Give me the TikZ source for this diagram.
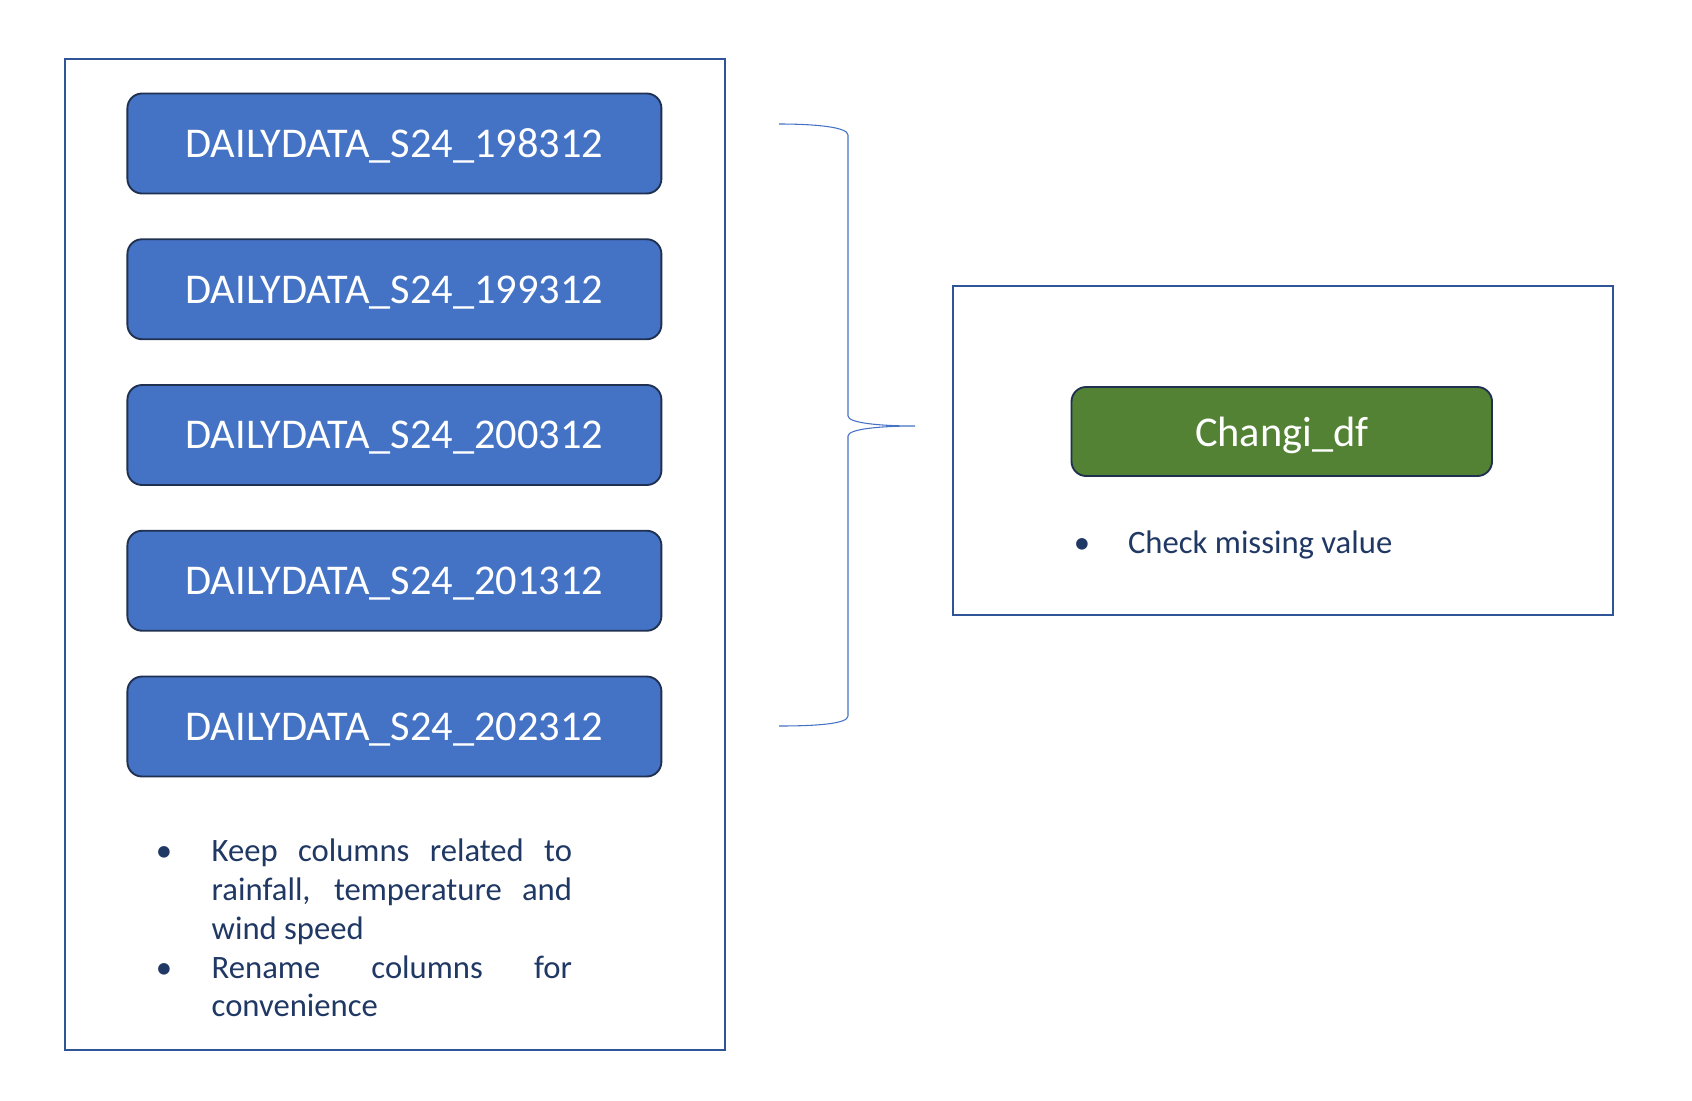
\documentclass[tikz,border=0pt]{standalone}
\usepackage{fontspec}
\setmainfont{Carlito}
\definecolor{boxblue}{HTML}{4472C4}
\definecolor{boxgreen}{HTML}{548235}
\definecolor{edgedark}{HTML}{1F3050}
\definecolor{panelblue}{HTML}{2F5597}
\definecolor{navytext}{HTML}{203864}
\definecolor{bracecol}{HTML}{4472C4}
\tikzset{
  panel/.style={draw=panelblue, line width=1.4pt, inner sep=0pt, outer sep=0pt, fill=white},
  databox/.style={draw=edgedark, line width=1.4pt, fill=boxblue, rounded corners=11pt,
    minimum width=400.5pt, minimum height=75pt, inner sep=0pt, outer sep=0pt,
    text depth=0pt, text=white, font=\fontsize{31.8}{38}\selectfont},
  resultbox/.style={databox, fill=boxgreen, minimum width=315.4pt, minimum height=66.75pt},
  bullettext/.style={text=navytext, inner sep=0pt, outer sep=0pt, font=\fontsize{24.5}{29.5}\selectfont},
  bracebranch/.style={draw=bracecol, line width=0.8pt}
}
\begin{document}
\begin{tikzpicture}[x=0.75pt,y=-0.75pt]
\useasboundingbox (0,0) rectangle (1692,1100);
% panels
\node[panel, minimum width=495.4pt, minimum height=743pt] (leftpanel) at (395,554.7) {};
\node[panel, minimum width=495pt, minimum height=246.75pt] (rightpanel) at (1283,450.5) {};
% data boxes
\node[databox] (d1) at (394.4,143.5) {DAILYDATA\_S24\_198312};
\node[databox] (d2) at (394.4,289.25) {DAILYDATA\_S24\_199312};
\node[databox] (d3) at (394.4,435) {DAILYDATA\_S24\_200312};
\node[databox] (d4) at (394.4,580.75) {DAILYDATA\_S24\_201312};
\node[databox] (d5) at (394.4,726.5) {DAILYDATA\_S24\_202312};
% left bullets
\node[bullettext, anchor=base] (lb1) at (164,861.7) {•};
\node[bullettext, anchor=base west] (l1) at (211.7,861.7) {\makebox[270.2pt][s]{Keep columns related to}};
\node[bullettext, anchor=base west] (l2) at (211.7,900.5) {\makebox[270.2pt][s]{rainfall, temperature and}};
\node[bullettext, anchor=base west] (l3) at (211.7,939.3) {wind speed};
\node[bullettext, anchor=base] (lb2) at (164,978) {•};
\node[bullettext, anchor=base west] (l4) at (211.7,978) {\makebox[270.2pt][s]{Rename columns for}};
\node[bullettext, anchor=base west] (l5) at (211.7,1016.8) {convenience};
% result box
\node[resultbox] (changi) at (1281.75,431.5) {Changi\_df};
\node[bullettext, anchor=base] (rb1) at (1082,553) {•};
\node[bullettext, anchor=base west] (r1) at (1128,553) {Check missing value};
% brace
\coordinate (bt) at (779,124);
\coordinate (bb) at (779,726);
\coordinate (tip) at (915,426);
\draw[bracebranch] (bt) .. controls (815,124) and (848,127) .. (848,135) -- (848,416)
  .. controls (848,423) and (880,426) .. (tip)
  .. controls (880,426) and (848,429) .. (848,436) -- (848,716)
  .. controls (848,724) and (815,726) .. (bb);
\end{tikzpicture}
\end{document}
